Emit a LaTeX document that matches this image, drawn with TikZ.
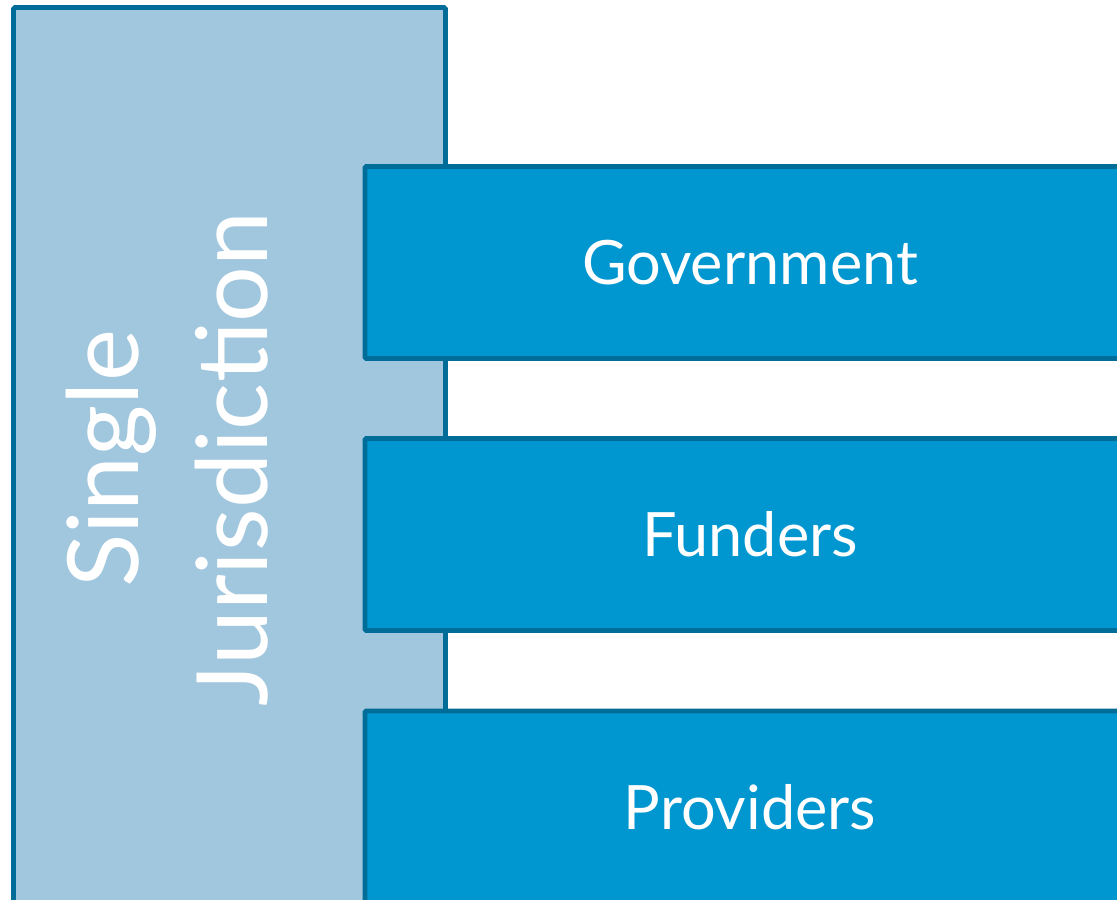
\documentclass[tikz,border=0pt]{standalone}
\usepackage{fontspec}
\setmainfont{Lato}
\usepackage{tikz}
\usetikzlibrary{positioning}
\definecolor{jurfill}{RGB}{161,199,222}
\definecolor{actfill}{RGB}{0,150,208}
\definecolor{edgeblue}{RGB}{0,108,152}
\tikzset{
  actorbox/.style={draw=edgeblue, fill=actfill, line width=3.4pt, rounded corners=1pt,
    minimum width=19.25cm, minimum height=4.8cm, inner sep=0pt, text=white,
    font=\fontsize{43.5}{48}\selectfont},
}
\begin{document}
\begin{tikzpicture}[x=0.025cm,y=-0.025cm]
  \useasboundingbox (0,0) rectangle (1117,900);
  \clip (0,0) rectangle (1117,900);
  %draw jurisdiction column (runs off the bottom)
  \draw[draw=edgeblue, fill=jurfill, line width=3.4pt, rounded corners=1pt]
    (13.5,920) -- (13.5,7.5) -- (445.5,7.5) -- (445.5,920);
  %insert column label
  \node[rotate=90, align=center, text=white, inner sep=0pt,
        font=\fontsize{70}{92}\selectfont] (jur) at (167,459) {Single\\Jurisdiction};
  %draw actor boxes
  \node[actorbox] (gov) at (750,262.5) {Government};
  \node[actorbox] (fund) at (750,534.5) {Funders};
  \node[actorbox] (prov) at (750,807) {Providers};
\end{tikzpicture}
\end{document}
